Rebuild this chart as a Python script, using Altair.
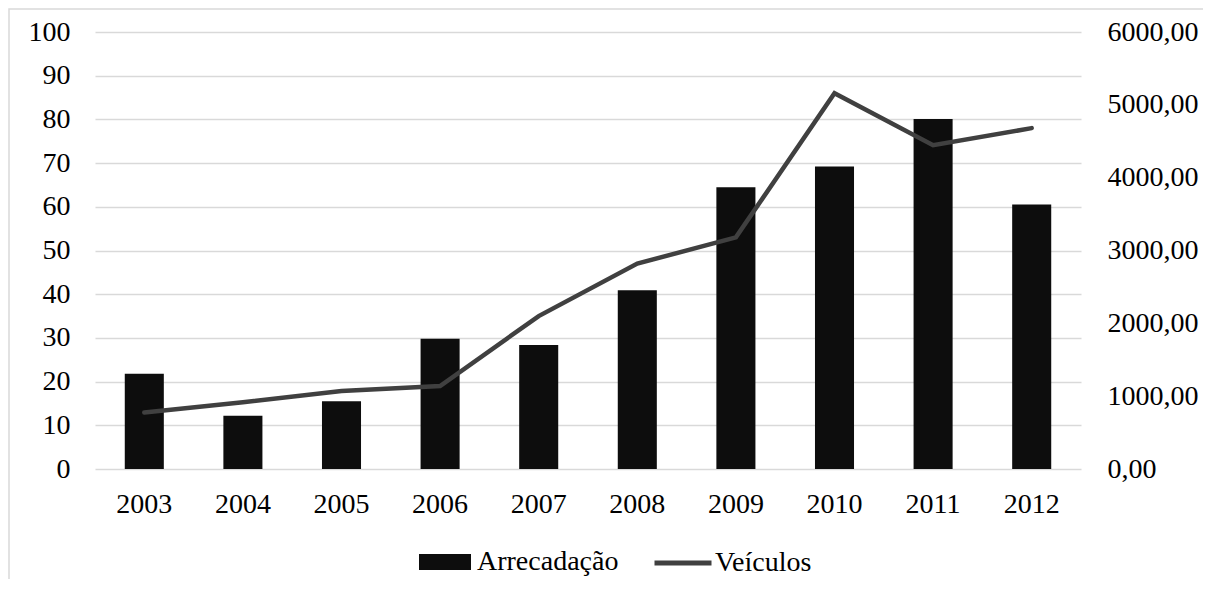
import altair as alt
import pandas as pd

anos = ["2003", "2004", "2005", "2006", "2007", "2008", "2009", "2010", "2011", "2012"]
arrecadacao = [21.8, 12.2, 15.5, 29.8, 28.4, 40.9, 64.5, 69.2, 80.1, 60.5]
veiculos = [775, 915, 1070, 1140, 2100, 2820, 3180, 5160, 4445, 4680]
y_left_ticks = list(range(0, 101, 10))
y_right_ticks = list(range(0, 6001, 1000))

df = pd.DataFrame({
    "ano": anos,
    "arrec": arrecadacao,
    "veic": veiculos,
    "s1": ["Arrecadação"] * len(anos),
    "s2": ["Veículos"] * len(anos),
})

FONT = "Liberation Serif"
FS = 28

frame = alt.Chart(alt.Data(values=[{"f": 1}])).mark_rect(
    fill=None, stroke="#d9d9d9", strokeWidth=1.5
).encode(
    x=alt.value(-86), x2=alt.value(1400), y=alt.value(-23), y2=alt.value(800)
)

base = alt.Chart(df).encode(
    x=alt.X(
        "ano:N",
        scale=alt.Scale(paddingInner=0.604, paddingOuter=0.302),
        axis=alt.Axis(title=None, labelAngle=0, ticks=False, domain=False,
                      labelPadding=21, grid=False, labelFont=FONT,
                      labelFontSize=FS, labelColor="#000000"),
    )
)

bars = base.mark_bar().encode(
    y=alt.Y(
        "arrec:Q",
        scale=alt.Scale(domain=[0, 100]),
        axis=alt.Axis(title=None, values=y_left_ticks, grid=True, ticks=False,
                      domain=False, labelPadding=25, labelFont=FONT,
                      labelFontSize=FS, labelColor="#000000"),
    ),
    fill=alt.Fill(
        "s1:N",
        scale=alt.Scale(domain=["Arrecadação"], range=["#0d0d0d"]),
        legend=alt.Legend(
            title=None, orient="none", legendX=324, legendY=504,
            symbolType="M-1,-0.308H1V0.308H-1Z", symbolSize=2704,
            symbolStrokeWidth=0, labelOffset=6, padding=0,
        ),
    ),
)

line = base.mark_line(strokeWidth=4.5, strokeCap="round").encode(
    y=alt.Y(
        "veic:Q",
        scale=alt.Scale(domain=[0, 6000]),
        axis=alt.Axis(orient="right", title=None, values=y_right_ticks,
                      labelExpr="replace(format(datum.value, '.2f'), '.', ',')",
                      grid=False, ticks=False, domain=False, labelPadding=26,
                      labelFont=FONT, labelFontSize=FS, labelColor="#000000"),
    ),
    stroke=alt.Stroke(
        "s2:N",
        scale=alt.Scale(domain=["Veículos"], range=["#404040"]),
        legend=alt.Legend(
            title=None, orient="none", legendX=557, legendY=500,
            symbolType="stroke", symbolSize=3249, symbolStrokeWidth=5,
            labelOffset=1, padding=0,
        ),
    ),
)

chart = alt.layer(frame, bars, line).resolve_scale(
    y="independent"
).properties(
    width=986, height=437,
    autosize=alt.AutoSizeParams(type="none"),
    padding={"left": 87, "top": 24, "right": 122, "bottom": 110},
).configure_view(stroke=None).configure_axis(
    labelFont=FONT, labelFontSize=FS, labelColor="#000000",
    gridColor="#d9d9d9", gridWidth=1.5,
).configure_legend(
    labelFont=FONT, labelFontSize=FS, labelColor="#000000",
)

chart.save("out.html", embed_options={"renderer": "svg", "actions": False})
